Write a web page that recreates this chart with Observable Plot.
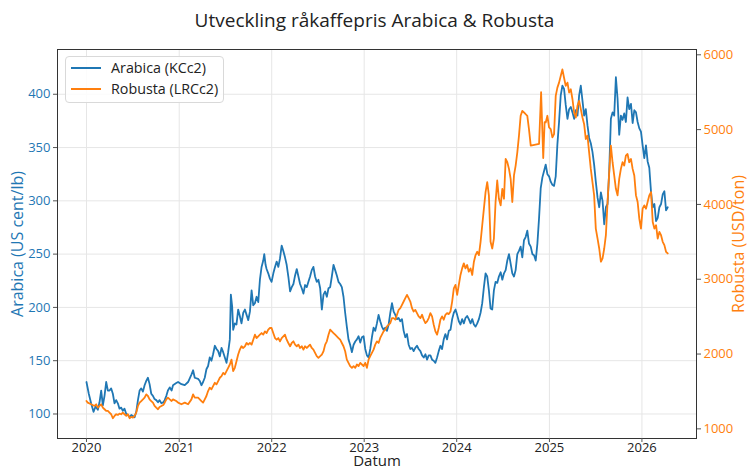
<!DOCTYPE html>
<html><head><meta charset="utf-8">
<script src="https://cdn.jsdelivr.net/npm/d3@7"></script>
<script src="https://cdn.jsdelivr.net/npm/@observablehq/plot@0.6"></script>
<style>
body{margin:0;background:#fff;font-family:"Open Sans",Roboto,sans-serif;}
#wrap{position:relative;width:749px;height:468px;overflow:hidden;}
#title{position:absolute;left:0;top:7px;width:749px;text-align:center;font-size:19px;line-height:26px;color:#222;}
#chart{position:absolute;left:0;top:38px;}
#legend{position:absolute;left:65px;top:56px;width:157px;height:45px;border:1px solid #d9d9d9;border-radius:4px;background:rgba(255,255,255,0.85);font-size:14.3px;color:#222;}
.item{position:absolute;left:5px;height:20px;line-height:20px;white-space:nowrap;}
.item span.sw{display:inline-block;width:30px;height:0;border-top:2px solid;vertical-align:middle;margin-right:10px;position:relative;top:-1px;}
</style></head><body>
<div id="wrap">
  <div id="title">Utveckling råkaffepris Arabica &amp; Robusta</div>
  <div id="chart"></div>
  <div id="legend">
    <div class="item" style="top:1px"><span class="sw" style="border-color:#1f77b4"></span>Arabica (KCc2)</div>
    <div class="item" style="top:22px"><span class="sw" style="border-color:#ff7f0e"></span>Robusta (LRCc2)</div>
  </div>
</div>
<script>
// [decimal years since 2020-01-01, US cent/lb]
const arabica = [[0.000,130],[0.025,119],[0.050,110],[0.076,102],[0.098,107],[0.123,104],[0.141,111],[0.159,122],[0.177,108],[0.195,117],[0.213,130],[0.231,122],[0.249,122],[0.267,124],[0.285,119],[0.303,110],[0.321,113],[0.339,110],[0.357,105],[0.375,106],[0.393,103],[0.411,105],[0.430,100],[0.448,99],[0.466,97],[0.484,99],[0.502,98],[0.520,97],[0.538,102],[0.556,113],[0.574,122],[0.592,124],[0.610,121],[0.628,127],[0.646,131],[0.664,134],[0.682,128],[0.700,119],[0.718,117],[0.736,114],[0.754,113],[0.773,111],[0.790,113],[0.810,110],[0.830,111],[0.845,113],[0.863,117],[0.880,122],[0.900,125],[0.920,122],[0.935,127],[0.970,129],
[0.990,130],[1.026,128],[1.062,127],[1.098,130],[1.134,137],[1.152,141],[1.170,134],[1.206,133],[1.224,131],[1.242,127],[1.260,130],[1.278,134],[1.296,142],[1.314,145],[1.332,153],[1.350,150],[1.368,156],[1.387,164],[1.405,161],[1.423,159],[1.441,154],[1.459,162],[1.477,158],[1.495,153],[1.513,148],[1.531,158],[1.549,170],[1.560,212],[1.574,201],[1.585,179],[1.603,185],[1.621,184],[1.639,198],[1.657,192],[1.675,185],[1.694,195],[1.712,198],[1.730,193],[1.748,188],[1.766,196],[1.784,216],[1.802,202],[1.820,204],[1.838,210],[1.856,205],[1.874,226],[1.892,238],[1.910,244],[1.921,250],[1.935,240],[1.946,236],[1.964,232],[1.982,227],[2.000,224],
[2.019,232],[2.037,238],[2.055,243],[2.073,238],[2.091,246],[2.109,258],[2.127,253],[2.145,247],[2.163,240],[2.181,229],[2.200,215],[2.218,219],[2.236,222],[2.254,230],[2.272,236],[2.290,229],[2.308,222],[2.326,218],[2.344,213],[2.362,221],[2.380,219],[2.398,224],[2.416,229],[2.434,235],[2.452,238],[2.470,229],[2.488,224],[2.506,226],[2.525,218],[2.543,198],[2.561,212],[2.579,215],[2.597,210],[2.615,218],[2.633,219],[2.651,229],[2.669,240],[2.687,235],[2.705,230],[2.723,224],[2.741,222],[2.759,219],[2.777,210],[2.795,195],[2.813,182],[2.831,170],[2.849,165],[2.868,158],[2.886,165],[2.904,168],[2.922,170],[2.940,173],[2.958,167],[2.976,172],[2.994,173],[3.012,161],[3.030,155],
[3.048,153],[3.066,161],[3.084,172],[3.102,181],[3.120,178],[3.138,185],[3.156,193],[3.174,187],[3.192,182],[3.210,179],[3.229,181],[3.247,178],[3.265,184],[3.283,195],[3.301,204],[3.319,196],[3.337,193],[3.355,189],[3.373,190],[3.391,187],[3.409,189],[3.427,178],[3.445,172],[3.463,175],[3.481,165],[3.499,161],[3.517,162],[3.535,159],[3.553,162],[3.571,164],[3.589,161],[3.608,159],[3.626,155],[3.644,153],[3.662,156],[3.680,151],[3.698,155],[3.716,155],[3.734,151],[3.752,150],[3.770,148],[3.788,153],[3.806,159],[3.824,164],[3.842,161],[3.860,170],[3.878,175],[3.896,170],[3.915,178],[3.933,179],[3.951,189],[3.969,195],[3.987,198],[4.005,193],[4.023,187],[4.041,184],
[4.059,189],[4.077,185],[4.095,190],[4.113,192],[4.131,189],[4.150,185],[4.168,189],[4.186,184],[4.204,182],[4.222,185],[4.240,189],[4.258,195],[4.276,204],[4.294,219],[4.312,232],[4.330,229],[4.348,216],[4.366,199],[4.384,198],[4.402,216],[4.420,224],[4.438,223],[4.456,229],[4.475,233],[4.493,226],[4.511,232],[4.529,235],[4.547,244],[4.565,250],[4.583,241],[4.601,232],[4.619,229],[4.637,235],[4.655,250],[4.673,253],[4.691,257],[4.709,247],[4.727,263],[4.745,266],[4.763,272],[4.781,260],[4.800,257],[4.818,250],[4.836,249],[4.854,244],[4.872,260],[4.890,284],[4.908,312],[4.926,322],[4.944,328],[4.962,334],[4.980,325],[4.998,323],[5.016,318],[5.034,315],[5.052,314],
[5.070,323],[5.088,353],[5.106,374],[5.124,399],[5.142,408],[5.160,405],[5.178,390],[5.197,377],[5.215,386],[5.233,388],[5.251,383],[5.269,377],[5.287,385],[5.305,380],[5.323,399],[5.341,408],[5.359,394],[5.377,380],[5.395,386],[5.413,371],[5.431,359],[5.449,354],[5.467,346],[5.485,334],[5.503,318],[5.522,303],[5.540,294],[5.558,308],[5.576,300],[5.594,278],[5.612,294],[5.630,297],[5.648,328],[5.666,377],[5.684,383],[5.702,380],[5.720,416],[5.738,396],[5.756,362],[5.774,380],[5.792,376],[5.810,382],[5.828,374],[5.846,397],[5.864,386],[5.883,391],[5.901,373],[5.919,385],[5.937,383],[5.955,374],[5.973,368],[5.991,365],[6.009,352],[6.027,340],[6.045,352],[6.063,337],[6.081,331],[6.100,308],[6.118,294],[6.136,297],[6.154,281],[6.172,284],[6.190,294],[6.208,297],[6.226,306],[6.244,309],[6.262,291],[6.280,294]];

// [decimal years since 2020-01-01, USD/ton]
const robusta = [[0.000,1372],[0.014,1350],[0.050,1328],[0.087,1306],[0.105,1328],[0.123,1284],[0.141,1306],[0.159,1328],[0.177,1284],[0.195,1262],[0.213,1239],[0.231,1239],[0.249,1217],[0.267,1195],[0.285,1142],[0.303,1173],[0.321,1195],[0.339,1186],[0.357,1204],[0.375,1195],[0.393,1217],[0.411,1195],[0.430,1173],[0.448,1195],[0.466,1142],[0.484,1160],[0.502,1151],[0.520,1173],[0.538,1217],[0.556,1306],[0.574,1350],[0.592,1372],[0.610,1394],[0.628,1417],[0.646,1461],[0.664,1439],[0.682,1394],[0.700,1372],[0.718,1350],[0.736,1306],[0.754,1284],[0.773,1262],[0.790,1293],[0.810,1306],[0.830,1319],[0.845,1350],[0.863,1394],[0.880,1417],[0.900,1394],[0.920,1372],[0.935,1394],[0.970,1372],
[0.990,1350],[1.026,1328],[1.062,1350],[1.098,1328],[1.134,1394],[1.152,1461],[1.170,1417],[1.206,1417],[1.242,1372],[1.260,1350],[1.278,1394],[1.296,1439],[1.314,1505],[1.332,1550],[1.350,1528],[1.368,1572],[1.387,1616],[1.405,1594],[1.423,1638],[1.441,1683],[1.459,1705],[1.477,1749],[1.495,1727],[1.513,1771],[1.531,1816],[1.549,1860],[1.567,1926],[1.585,1771],[1.603,1816],[1.621,1904],[1.639,1993],[1.657,2059],[1.675,2104],[1.694,2081],[1.712,2104],[1.730,2148],[1.748,2126],[1.766,2148],[1.784,2126],[1.802,2192],[1.820,2259],[1.838,2214],[1.856,2237],[1.874,2259],[1.892,2281],[1.910,2259],[1.928,2303],[1.946,2281],[1.964,2326],[1.982,2348],[2.000,2348],[2.018,2281],[2.037,2214],
[2.055,2192],[2.073,2214],[2.091,2170],[2.109,2214],[2.127,2237],[2.145,2259],[2.163,2192],[2.181,2148],[2.200,2104],[2.218,2148],[2.236,2170],[2.254,2126],[2.272,2104],[2.290,2126],[2.308,2081],[2.326,2104],[2.344,2059],[2.362,2104],[2.380,2081],[2.398,2104],[2.416,2126],[2.434,2081],[2.452,2059],[2.470,2015],[2.488,1971],[2.506,1949],[2.525,1971],[2.543,1993],[2.561,2037],[2.579,2126],[2.597,2170],[2.615,2259],[2.633,2326],[2.651,2303],[2.669,2281],[2.687,2259],[2.705,2237],[2.723,2214],[2.741,2192],[2.759,2148],[2.777,2104],[2.795,2037],[2.813,1926],[2.831,1882],[2.849,1838],[2.868,1816],[2.886,1838],[2.904,1816],[2.922,1860],[2.940,1838],[2.958,1882],[2.976,1860],[2.994,1838],[3.012,1882],[3.030,1816],
[3.048,1926],[3.066,1971],[3.084,2015],[3.102,2059],[3.120,2126],[3.138,2170],[3.156,2148],[3.174,2215],[3.192,2259],[3.210,2303],[3.229,2326],[3.247,2370],[3.265,2392],[3.283,2414],[3.301,2481],[3.319,2481],[3.337,2459],[3.355,2525],[3.373,2591],[3.391,2614],[3.409,2658],[3.427,2702],[3.445,2747],[3.463,2791],[3.481,2747],[3.499,2702],[3.517,2614],[3.535,2569],[3.553,2591],[3.571,2547],[3.589,2503],[3.608,2481],[3.626,2525],[3.644,2459],[3.662,2414],[3.680,2436],[3.698,2481],[3.716,2547],[3.734,2503],[3.752,2392],[3.770,2303],[3.788,2259],[3.806,2348],[3.824,2459],[3.842,2503],[3.860,2459],[3.878,2525],[3.896,2547],[3.915,2534],[3.933,2569],[3.951,2702],[3.969,2879],[3.987,2924],[4.005,2791],[4.023,2924],[4.041,3057],[4.059,3145],[4.077,3212],
[4.095,3145],[4.113,3190],[4.131,3101],[4.150,3145],[4.168,3057],[4.186,3234],[4.204,3323],[4.222,3367],[4.240,3323],[4.258,3500],[4.276,3722],[4.294,3943],[4.312,4165],[4.330,4298],[4.348,4121],[4.366,3500],[4.384,3411],[4.402,3544],[4.420,4032],[4.438,4320],[4.456,4076],[4.475,3988],[4.493,4209],[4.511,4076],[4.529,4608],[4.547,4564],[4.565,4475],[4.583,4342],[4.601,4032],[4.619,4387],[4.637,4520],[4.655,4697],[4.673,4919],[4.691,5185],[4.709,5251],[4.727,5229],[4.745,5206],[4.763,5185],[4.781,5007],[4.800,4786],[4.890,4808],[4.912,5500],[4.935,4620],[4.950,5100],
[4.962,5096],[4.980,5185],[4.998,5029],[5.016,5007],[5.034,4896],[5.052,4940],[5.070,5451],[5.088,5561],[5.106,5628],[5.124,5717],[5.142,5805],[5.160,5694],[5.178,5584],[5.197,5628],[5.215,5495],[5.233,5539],[5.251,5406],[5.269,5229],[5.287,5162],[5.305,5318],[5.323,5384],[5.341,5273],[5.359,5162],[5.377,5073],[5.395,4874],[5.413,4919],[5.431,4697],[5.449,4475],[5.467,4298],[5.485,4121],[5.503,3677],[5.522,3544],[5.540,3411],[5.558,3234],[5.576,3278],[5.594,3411],[5.612,3589],[5.630,4032],[5.648,4431],[5.666,4786],[5.684,4564],[5.702,4387],[5.720,4209],[5.738,4121],[5.756,4342],[5.774,4475],[5.792,4564],[5.810,4520],[5.828,4653],[5.846,4674],[5.864,4564],[5.883,4608],[5.901,4475],[5.919,4387],[5.937,4121],[5.955,4032],[5.973,3810],[5.991,3677],[6.009,3943],[6.027,3988],[6.045,3943],[6.063,4032],[6.081,4121],[6.100,4165],[6.118,3766],[6.136,3677],[6.154,3722],[6.172,3544],[6.190,3633],[6.208,3589],[6.226,3500],[6.244,3456],[6.262,3367],[6.280,3345]];

const yearTicks = [2020, 2021, 2022, 2023, 2024, 2025, 2026];
const arabicaTicks = [100, 150, 200, 250, 300, 350, 400];
const robustaTicks = [1000, 2000, 3000, 4000, 5000, 6000];
const arabicaDomain = [77, 442];
const robustaDomain = [871, 6071];

const BLUE = "#1f77b4", ORANGE = "#ff7f0e";
const t0 = Date.UTC(2020, 0, 1);
const toDate = t => new Date(t0 + t * 365.25 * 864e5);

const aData = arabica.map(([t, v]) => ({date: toDate(t), value: v}));
const r2a = d3.scaleLinear().domain(robustaDomain).range(arabicaDomain);
const rData = robusta.map(([t, v]) => ({date: toDate(t), value: r2a(v)}));
const yearDates = yearTicks.map(y => new Date(Date.UTC(y, 0, 1)));

const chart = Plot.plot({
  width: 749, height: 430,
  marginTop: 11, marginBottom: 30, marginLeft: 57, marginRight: 53,
  style: {fontFamily: "'Open Sans', Roboto, sans-serif", fontSize: "13px", background: "white", color: "#222", overflow: "visible"},
  x: {type: "utc", domain: [toDate(-0.313), toDate(6.591)]},
  y: {domain: arabicaDomain},
  marks: [
    Plot.gridY(arabicaTicks, {stroke: "#e6e6e6", strokeOpacity: 1}),
    Plot.gridX(yearDates, {stroke: "#e6e6e6", strokeOpacity: 1}),
    Plot.lineY(aData, {x: "date", y: "value", stroke: BLUE, strokeWidth: 1.8}),
    Plot.lineY(rData, {x: "date", y: "value", stroke: ORANGE, strokeWidth: 1.8}),
    Plot.frame({stroke: "#333", strokeWidth: 1}),
    Plot.axisY(arabicaTicks, {anchor: "left", label: null, tickSize: 4, tickPadding: 3, stroke: "#555", fill: BLUE, fontSize: 13}),
    Plot.axisY(robustaTicks.map(r2a), {anchor: "right", label: null, tickSize: 4, tickPadding: 3, stroke: "#555", fill: ORANGE, fontSize: 13,
      tickFormat: d => String(Math.round(r2a.invert(d)))}),
    Plot.axisX(yearDates, {anchor: "bottom", label: null, tickSize: 4, tickPadding: 0, stroke: "#555", fill: "#222", fontSize: 13, tickFormat: d3.utcFormat("%Y")}),
    Plot.text(["Arabica (US cent/lb)"], {frameAnchor: "left", textAnchor: "middle", rotate: -90, dx: -40, fill: BLUE, fontSize: 16}),
    Plot.text(["Robusta (USD/ton)"], {frameAnchor: "right", textAnchor: "middle", rotate: -90, dx: 42.5, fill: ORANGE, fontSize: 16}),
    Plot.text(["Datum"], {frameAnchor: "bottom", textAnchor: "middle", dy: 27, fill: "#222", fontSize: 15})
  ]
});
document.getElementById("chart").appendChild(chart);
</script>
</body></html>
